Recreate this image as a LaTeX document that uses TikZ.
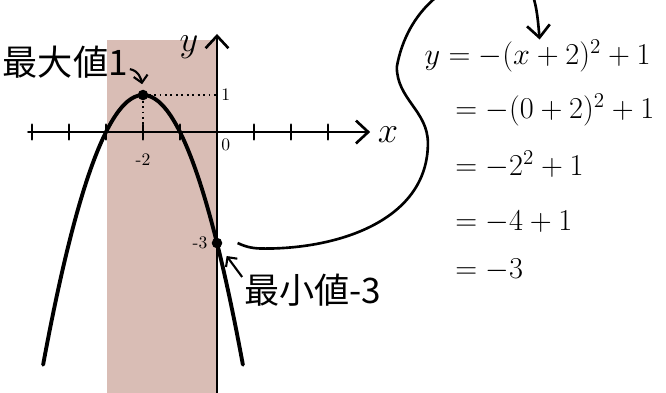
\documentclass[tikz,border=0pt]{standalone}
\usepackage{fontspec}
\usepackage{amsmath}
\newfontfamily\jpfont{Noto Sans CJK JP}
\usetikzlibrary{arrows.meta}
\definecolor{rangepink}{RGB}{217,189,181}

\begin{document}
\begin{tikzpicture}[x=0.74cm,y=0.74cm,font=\fontsize{17}{20}\selectfont,
  >={Straight Barb[length=7pt,width=13pt]},
  axis/.style={line width=1.5pt,line cap=round},
  curve/.style={line width=2.2pt,line cap=round},
  guide/.style={dotted,line width=1.1pt},
  dot/.style={circle,fill,inner sep=0pt,minimum size=6pt},
  tick/.style={font=\fontsize{10}{12}\selectfont,inner sep=1pt},
  note/.style={font=\jpfont\fontsize{20}{24}\selectfont,inner sep=1pt},
  ptr/.style={line width=1.2pt,-{Straight Barb[length=4pt,width=8pt]}},
  link/.style={line width=1.5pt,->},
  eq/.style={anchor=base west,inner sep=0pt}]
  \clip (-5.865,-7.027) rectangle (12.135,3.568);
  \fill[rangepink] (-2.97,-7.1) rectangle (0,2.49);
  % axes
  \draw[axis,->] (-5.1,0) -- (4.14,0);
  \draw[axis,->] (0,-7.1) -- (0,2.65);
  \foreach \k in {-5,-4,-3,-2,-1,1,2,3}
    \draw[axis] (\k,-0.2) -- (\k,0.2);
  \node (xlab) at (4.62,-0.08) {\fontsize{22}{24}\selectfont$x$};
  \node (ylab) at (-0.76,2.3) {\fontsize{22}{24}\selectfont$y$};
  \node[tick] (lbla) at (-2,-0.76) {-2};
  \node[tick] (lblb) at (0.24,-0.35) {0};
  \node[tick] (lblc) at (0.24,1.02) {1};
  \node[tick] (lbld) at (-0.46,-3.0) {-3};
  % parabola
  \draw[curve] plot[domain=-4.7:0.7,samples=60,smooth] (\x,{1-(\x+2)^2});
  \node[dot] (maxpt) at (-2,1) {};
  \node[dot] (minpt) at (0,-3) {};
  \coordinate (yone) at (0,1);
  \coordinate (xtwo) at (-2,0);
  \draw[guide] (maxpt) -- (yone);
  \draw[guide] (maxpt) -- (xtwo);
  % notes
  \node[note] (maxlab) at (-4.1,1.89) {最大値1};
  \node[note,anchor=west] (minlab) at (0.68,-4.27) {最小値-3};
  \draw[ptr,shorten >=3pt] ([yshift=-4pt]maxlab.east) to[out=-10,in=100] (maxpt.north);
  \draw[ptr,shorten >=6pt] ([yshift=-3pt]minlab.north west) -- (minpt);
  % working
  \node[eq] (eqA) at (5.6,1.82) {$y=-(x+2)^2+1$};
  \node[eq] (eqB) at (6.43,0.36) {$=-(0+2)^2+1$};
  \node[eq] (eqC) at (6.43,-1.18) {$=-2^2+1$};
  \node[eq] (eqD) at (6.43,-2.66) {$=-4+1$};
  \node[eq] (eqE) at (6.43,-3.96) {$=-3$};
  \coordinate (eqx) at (8.72,2.5);
  \draw[link] ([xshift=0.3cm]minpt.east) to[out=-25,in=180] (1.3,-3.15)
    to[out=0,in=-90] (5.7,-0.3) to[out=90,in=-90] (4.86,1.76)
    to[out=80,in=180] (7.8,4.3) to[out=0,in=95] (eqx);
\end{tikzpicture}
\end{document}
